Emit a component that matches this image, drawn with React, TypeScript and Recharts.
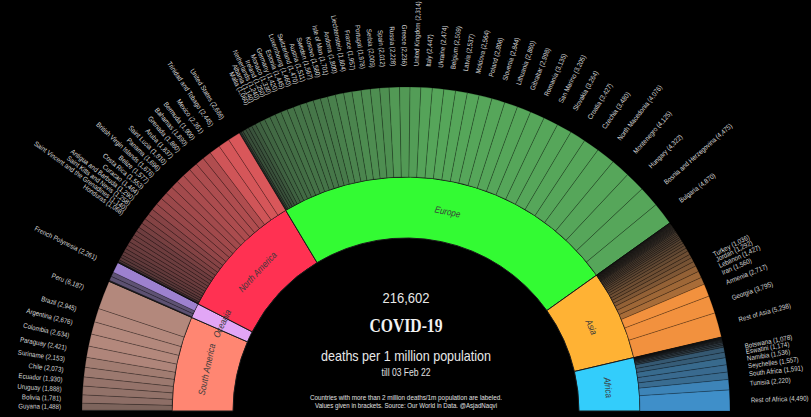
import { PieChart, Pie, Cell } from "recharts";

// countries per continent, ascending: [name, deaths per 1m population]
const southAmerica: [string, number][] = [
  ["Venezuela", 190], ["Guyana", 1488], ["Bolivia", 1781], ["Uruguay", 1888], ["Ecuador", 1930],
  ["Chile", 2073], ["Suriname", 2153], ["Paraguay", 2421], ["Colombia", 2634], ["Argentina", 2676],
  ["Brazil", 2945], ["Peru", 6187],
];
const oceania: [string, number][] = [
  ["New Zealand", 11], ["Papua New Guinea", 60], ["Australia", 174], ["Fiji", 940],
  ["New Caledonia", 970], ["French Polynesia", 2261],
];
const northAmerica: [string, number][] = [
  ["Nicaragua", 35], ["Greenland", 37], ["Haiti", 70], ["Cayman Islands", 150], ["Dominican Republic", 385],
  ["El Salvador", 620], ["Dominica", 630], ["Barbados", 740], ["Cuba", 748], ["Turks and Caicos Islands", 820],
  ["Jamaica", 860], ["Martinique", 900], ["Canada", 905], ["Guatemala", 935], ["Guadeloupe", 940],
  ["Honduras", 1068], ["Saint Vincent and the Grenadines", 1140], ["Saint Kitts and Nevis", 1258],
  ["Antigua and Barbuda", 1290], ["Curacao", 1464], ["Costa Rica", 1553], ["Belize", 1577],
  ["British Virgin Islands", 1676], ["Panama", 1696], ["Saint Lucia", 1810], ["Aruba", 1837],
  ["Grenada", 1860], ["Bahamas", 1890], ["Bermuda", 1900], ["Mexico", 2361],
  ["Trinidad and Tobago", 2445], ["United States", 2686],
];
const europe: [string, number][] = [
  ["Iceland", 170], ["Norway", 280], ["Finland", 420], ["Denmark", 680], ["Belarus", 690],
  ["Faroe Islands", 780], ["Cyprus", 880],
  ["Malta", 1060], ["Albania", 1140], ["Netherlands", 1240], ["Ireland", 1250], ["Monaco", 1330],
  ["Germany", 1420], ["Estonia", 1445], ["Luxembourg", 1460], ["Switzerland", 1470], ["Austria", 1511],
  ["Sweden", 1567], ["Kosovo", 1580], ["Isle of Man", 1701], ["Andorra", 1800], ["Liechtenstein", 1804],
  ["France", 1957], ["Portugal", 1978], ["Serbia", 2009], ["Spain", 2012], ["Russia", 2228],
  ["Greece", 2236], ["United Kingdom", 2314], ["Italy", 2447], ["Ukraine", 2474], ["Belgium", 2509],
  ["Latvia", 2537], ["Moldova", 2564], ["Poland", 2806], ["Slovenia", 2844], ["Lithuania", 2860],
  ["Gibraltar", 2998], ["Romania", 3135], ["San Marino", 3205], ["Slovakia", 3264], ["Croatia", 3427],
  ["Czechia", 3480], ["North Macedonia", 4076], ["Montenegro", 4125], ["Hungary", 4322],
  ["Bosnia and Herzegovina", 4475], ["Bulgaria", 4870],
];
const asia: [string, number][] = [
  ["China", 3], ["Bhutan", 4], ["Taiwan", 36], ["Yemen", 70], ["Laos", 80], ["Pakistan", 130],
  ["South Korea", 135], ["Japan", 150], ["Singapore", 150], ["Bangladesh", 170], ["Syria", 170],
  ["Cambodia", 180], ["Afghanistan", 185], ["Brunei", 200], ["United Arab Emirates", 220],
  ["Qatar", 230], ["Saudi Arabia", 250], ["Thailand", 320], ["Myanmar", 350], ["India", 360],
  ["Vietnam", 390], ["Nepal", 400], ["Philippines", 480], ["Indonesia", 520], ["Iraq", 580],
  ["Mongolia", 640], ["Sri Lanka", 720], ["Oman", 820], ["Bahrain", 820], ["Kazakhstan", 930],
  ["Turkey", 1036], ["Jordan", 1292], ["Lebanon", 1427], ["Iran", 1560], ["Armenia", 2717],
  ["Georgia", 3795], ["Rest of Asia", 5298],
];
const africa: [string, number][] = [
  ["Nigeria", 15], ["Ghana", 45], ["Cameroon", 70], ["Kenya", 100], ["Rwanda", 100], ["Senegal", 110],
  ["Gabon", 130], ["Algeria", 150], ["Zambia", 200], ["Egypt", 210], ["Lesotho", 320],
  ["Zimbabwe", 360], ["Morocco", 430],
  ["Botswana", 1078], ["Eswatini", 1174], ["Namibia", 1536], ["Seychelles", 1557],
  ["South Africa", 1591], ["Tunisia", 2220], ["Rest of Africa", 4490],
];

const continents = ["South America", "Oceania", "North America", "Europe", "Asia", "Africa"];
const countryLists = [southAmerica, oceania, northAmerica, europe, asia, africa];
const innerColors = ["#ff8672", "#e2a6f6", "#ff3152", "#33fb33", "#ffb234", "#33cdfb"];
const outerColors = ["#b3887c", "#a98ae0", "#d9575a", "#56a65a", "#f2913e", "#3f8fc9"];

const CX = 406;
const CY = 411;
const RAD = Math.PI / 180;
const FONT = "'Liberation Sans', Arial, sans-serif";

const mix = (a: string, b: string, t: number) => {
  const pa = [1, 3, 5].map((i) => parseInt(a.slice(i, i + 2), 16));
  const pb = [1, 3, 5].map((i) => parseInt(b.slice(i, i + 2), 16));
  return `rgb(${pa.map((v, i) => Math.round(v + (pb[i] - v) * t)).join(",")})`;
};

const innerData = continents.map((name, i) => ({
  name,
  value: countryLists[i].reduce((s, c) => s + c[1], 0),
  fill: innerColors[i],
}));

const outerData = countryLists.flatMap((list, i) =>
  list.map(([name, value]) => ({
    name,
    value,
    labeled: value >= 1000,
    fill: mix("#2e2e2e", outerColors[i], Math.min(1, value / 2500)),
  }))
);

const total = innerData.reduce((s, d) => s + d.value, 0);

const outerLabel = (p: any) => {
  const labeled = p.labeled ?? p.payload?.labeled;
  if (!labeled) return null;
  const r = p.outerRadius + 21;
  const x = p.cx + r * Math.cos(-p.midAngle * RAD);
  const y = p.cy + r * Math.sin(-p.midAngle * RAD);
  const left = p.midAngle > 90;
  const rot = left ? 180 - p.midAngle : -p.midAngle;
  return (
    <text
      x={0}
      y={0}
      transform={`translate(${x} ${y}) rotate(${rot}) scale(0.88 1)`}
      textAnchor={left ? "end" : "start"}
      dominantBaseline="central"
      fill="#d6d6d6"
      fontSize={7}
      fontFamily={FONT}
    >
      {`${p.name} (${Number(p.value).toLocaleString("en-US")})`}
    </text>
  );
};

const innerLabel = (p: any) => {
  const r = (p.innerRadius + p.outerRadius) / 2;
  const x = p.cx + r * Math.cos(-p.midAngle * RAD);
  const y = p.cy + r * Math.sin(-p.midAngle * RAD);
  return (
    <text
      x={0}
      y={0}
      transform={`translate(${x} ${y}) rotate(${90 - p.midAngle}) scale(0.85 1)`}
      textAnchor="middle"
      dominantBaseline="central"
      fill="#3a3a3a"
      fontSize={9.5}
      fontStyle="italic"
      fontFamily={FONT}
    >
      {p.name}
    </text>
  );
};

export default function App() {
  return (
    <div style={{ position: "absolute", left: 0, top: 0, width: 811, height: 417, background: "#000", overflow: "hidden" }}>
      <PieChart width={811} height={417} margin={{ top: 0, right: 0, bottom: 0, left: 0 }}>
        <Pie
          data={innerData}
          dataKey="value"
          cx={CX}
          cy={CY}
          startAngle={180}
          endAngle={0}
          innerRadius={173}
          outerRadius={234}
          label={innerLabel}
          labelLine={false}
          isAnimationActive={false}
        >
          {innerData.map((d) => (
            <Cell key={d.name} fill={d.fill} stroke="#1a1a1a" strokeWidth={1} />
          ))}
        </Pie>
        <Pie
          data={outerData}
          dataKey="value"
          cx={CX}
          cy={CY}
          startAngle={180}
          endAngle={0}
          innerRadius={234}
          outerRadius={324}
          label={outerLabel}
          labelLine={false}
          isAnimationActive={false}
        >
          {outerData.map((d, i) => (
            <Cell key={i} fill={d.fill} stroke="rgba(0,0,0,0.35)" strokeWidth={0.6} />
          ))}
        </Pie>
      </PieChart>
      <svg width={811} height={417} style={{ position: "absolute", left: 0, top: 0, pointerEvents: "none" }}>
        <text x={406} y={297} textAnchor="middle" dominantBaseline="central" fill="#e8e8e8" fontSize={15.5} fontFamily={FONT} textLength={47} lengthAdjust="spacingAndGlyphs">
          {total.toLocaleString("en-US")}
        </text>
        <text x={406} y={326} textAnchor="middle" dominantBaseline="central" fill="#f2f2f2" fontSize={18} fontWeight="bold" fontFamily="'Liberation Serif', serif" textLength={73} lengthAdjust="spacingAndGlyphs">
          COVID-19
        </text>
        <text x={406} y={355} textAnchor="middle" dominantBaseline="central" fill="#e8e8e8" fontSize={15} fontFamily={FONT} textLength={170} lengthAdjust="spacingAndGlyphs">
          deaths per 1 million population
        </text>
        <text x={406} y={372} textAnchor="middle" dominantBaseline="central" fill="#e0e0e0" fontSize={10.5} fontFamily={FONT} textLength={49} lengthAdjust="spacingAndGlyphs">
          till 03 Feb 22
        </text>
        <text x={406} y={397} textAnchor="middle" dominantBaseline="central" fill="#e0e0e0" fontSize={7} fontFamily={FONT} textLength={192} lengthAdjust="spacingAndGlyphs">
          Countries with more than 2 million deaths/1m population are labeled.
        </text>
        <text x={406} y={405} textAnchor="middle" dominantBaseline="central" fill="#e0e0e0" fontSize={7} fontFamily={FONT} textLength={182} lengthAdjust="spacingAndGlyphs">
          Values given in brackets. Source: Our World in Data. @AsjadNaqvi
        </text>
      </svg>
    </div>
  );
}
